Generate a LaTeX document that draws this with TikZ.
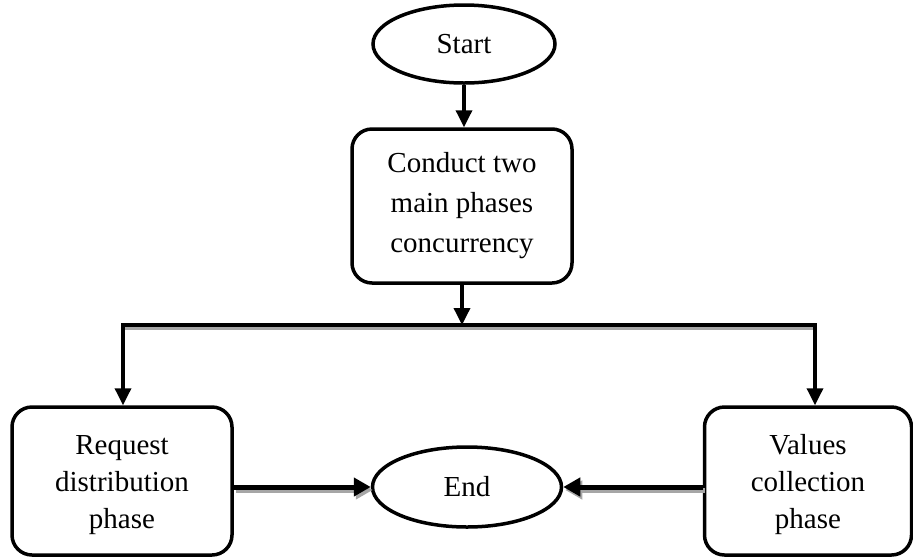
\documentclass[tikz,border=0pt]{standalone}
\usepackage{fontspec}
\setmainfont{Liberation Serif}
\usetikzlibrary{arrows.meta,shapes.geometric}
\begin{document}
\begin{tikzpicture}[x=1pt,y=-1pt,
  every node/.style={font=\fontsize{29}{40}\selectfont, align=center},
  term/.style={draw, ellipse, line width=3.5pt, inner sep=0pt},
  proc/.style={draw, rectangle, rounded corners=20pt, line width=3.5pt, inner sep=0pt},
  lowtext/.style={font=\fontsize{29}{37}\selectfont, inner sep=0pt},
  arr/.style={line width=3.5pt, -{Triangle[length=17pt,width=16pt]}},
  thick line/.style={line width=4.5pt},
  shadowline/.style={line width=4.5pt, draw=gray!70},
  bigarr/.style={line width=5pt, -{Triangle[length=17pt,width=18pt]}}
]
\useasboundingbox (0,0) rectangle (913,558);
\node[term, minimum width=182pt, minimum height=78pt] (start) at (464,44) {Start};
\node[proc, minimum width=220pt, minimum height=154pt] (conduct) at (462,206) {Conduct two\\main phases\\concurrency};
\node[proc, minimum width=220pt, minimum height=148pt] (req) at (122,481) {};
\node[lowtext] (reqtext) at ([yshift=-4pt]req.center) {Request\\distribution\\phase};
\node[proc, minimum width=207pt, minimum height=148pt] (val) at (808,481) {};
\node[lowtext] (valtext) at ([yshift=-4pt]val.center) {Values\\collection\\phase};
\node[term, minimum width=189pt, minimum height=80pt] (end) at (467,487) {End};
\coordinate (jl) at (123,325);
\coordinate (jr) at (815,325);
\coordinate (j) at (conduct.south |- jl);
% start to conduct
\draw[arr] (start.south) -- (start.south |- conduct.north);
% conduct to junction line
\draw[arr] (conduct.south) -- (j);
% horizontal distribution line with shadow
\draw[shadowline] ([shift={(2,3)}]jl) -- ([shift={(2,3)}]jr);
\draw[thick line] ([xshift=-1.75pt]jl) -- ([xshift=1.75pt]jr);
\draw[arr] (jl) -- (jl |- req.north);
\draw[arr] (jr) -- (jr |- val.north);
% bottom arrows with shadow
\coordinate (re) at (req.east |- end.west);
\coordinate (ve) at (val.west |- end.east);
\draw[bigarr, draw=gray!70] ([shift={(2,3)}]re) -- ([shift={(2,3)}]end.west);
\draw[bigarr] (re) -- (end.west);
\draw[bigarr, draw=gray!70] ([shift={(2,3)}]ve) -- ([shift={(2,3)}]end.east);
\draw[bigarr] (ve) -- (end.east);
\end{tikzpicture}
\end{document}
